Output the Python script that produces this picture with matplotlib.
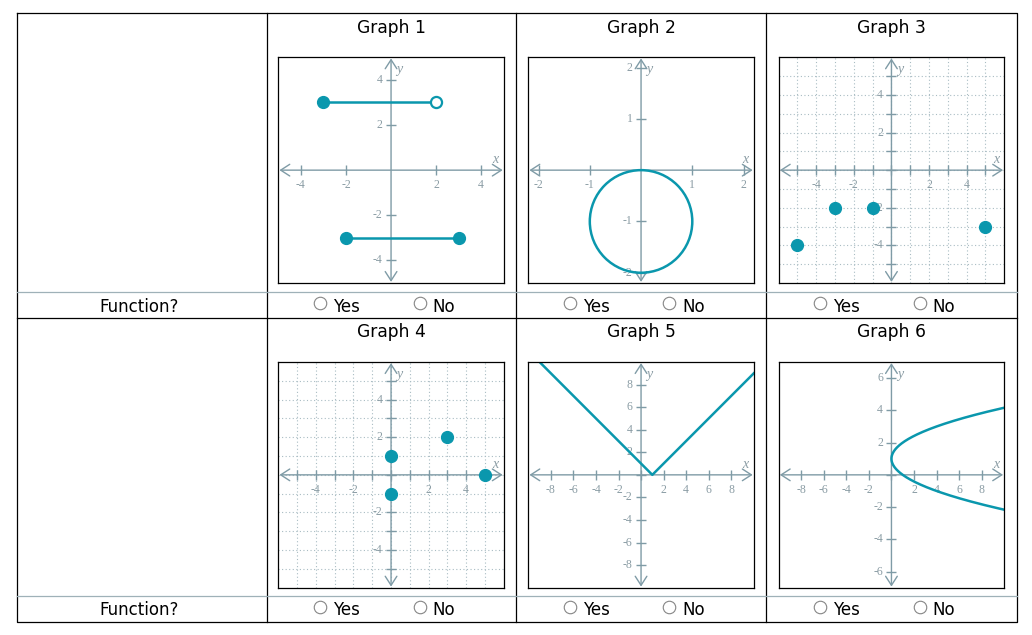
import numpy as np
import matplotlib.pyplot as plt
from matplotlib.patches import FancyArrowPatch, Circle

W, H = 1032, 635
TEAL = '#0a97ad'
AXC = '#7f9ba6'
LBL = '#8a9ca4'
GRID = '#a9bcc3'
SERIF = 'Liberation Serif'

titles = ['Graph 1', 'Graph 2', 'Graph 3', 'Graph 4', 'Graph 5', 'Graph 6']
row_label = 'Function?'
options = ['Yes', 'No']

# graph 1: two horizontal segments
g1_seg_x = [[-3, 2], [-2, 3]]
g1_seg_y = [[3, 3], [-3, -3]]
g1_closed_x = [-3, -2, 3]
g1_closed_y = [3, -3, -3]
g1_open_x = [2]
g1_open_y = [3]

# graph 2: circle
g2_center = (0, -1)
g2_radius = 1

# graph 3 / 4: points
g3_x = [-5, -3, -1, 5]
g3_y = [-4, -2, -2, -3]
g4_x = [0, 0, 3, 5]
g4_y = [1, -1, 2, 0]

# graph 5: V shape
g5_x = [-10, 1, 10]
g5_y = [11, 0, 9]

# graph 6: sideways parabola x = a*(y-k)^2
g6_vertex = (0, 1)
g6_a = 1.0
g6_yrange = (-2.5, 4.5)

# axis ranges, ticks and labels for each graph
ranges = [(5, 5), (2.2, 2.2), (6, 6), (6, 6), (10, 10), (10, 7)]
xticks = [[-4, -2, 2, 4], [-2, -1, 1, 2], list(range(-5, 6)), list(range(-5, 6)),
          list(range(-8, 9, 2)), list(range(-8, 9, 2))]
yticks = [[-4, -2, 2, 4], [-2, -1, 1, 2], list(range(-5, 6)), list(range(-5, 6)),
          list(range(-8, 9, 2)), list(range(-6, 7, 2))]
xlabels = [[-4, -2, 2, 4], [-2, -1, 1, 2], [-4, -2, 2, 4], [-4, -2, 2, 4],
           [-8, -6, -4, -2, 2, 4, 6, 8], [-8, -6, -4, -2, 2, 4, 6, 8]]
ylabels = [[-4, -2, 2, 4], [-2, -1, 1, 2], [-4, -2, 2, 4], [-4, -2, 2, 4],
           [-8, -6, -4, -2, 2, 4, 6, 8], [-6, -4, -2, 2, 4, 6]]
grids = [False, False, True, True, False, False]

fig = plt.figure(figsize=(W / 100, H / 100), dpi=100)
ax0 = fig.add_axes([0, 0, 1, 1])
ax0.set_xlim(0, W)
ax0.set_ylim(H, 0)
ax0.axis('off')

# table
L, R, T, B = 17.3, 1016.7, 13.3, 622
cols = [266.7, 516.3, 766.3]
ax0.plot([L, R, R, L, L], [T, T, B, B, T], color='black', lw=0.9)
for c in cols:
    ax0.plot([c, c], [T, B], color='black', lw=0.9)
ax0.plot([L, R], [318.3, 318.3], color='black', lw=0.9)
for y in [291.5, 595.5]:
    ax0.plot([L, R], [y, y], color='#9fb1b8', lw=0.9)

centers = [(cols[0] + cols[1]) / 2, (cols[1] + cols[2]) / 2, (cols[2] + R) / 2]
title_base = [33.0, 337.2]
radio_base = [311.5, 615.3]
for r in range(2):
    ax0.text(139, radio_base[r], row_label, fontsize=12, ha='center', va='baseline')
    for c in range(3):
        cx = centers[c]
        ax0.text(cx, title_base[r], titles[r * 3 + c], fontsize=12.3, ha='center', va='baseline')
        for off, opt in zip([-71.5, 28], options):
            ax0.plot(cx + off, radio_base[r] - 8.5, 'o', ms=9, mfc='white', mec='#858585', mew=0.8)
            ax0.text(cx + off + 13, radio_base[r], opt, fontsize=12, ha='left', va='baseline')

box_left = [278.3, 528.3, 778.7]
box_top = [57.3, 362.0]
bw, bh = 225.5, 225.7


def setup(ax, xr, yr, xt, yt, xl, yl, grid):
    ax.set_xlim(-xr, xr)
    ax.set_ylim(-yr, yr)
    ax.set_xticks([])
    ax.set_yticks([])
    for s in ax.spines.values():
        s.set_color('black')
        s.set_linewidth(0.9)
    if grid:
        for v in range(-int(xr) + 1, int(xr)):
            ax.axvline(v, color=GRID, lw=0.8, ls=(0, (1, 2.2)), zorder=0)
        for v in range(-int(yr) + 1, int(yr)):
            ax.axhline(v, color=GRID, lw=0.8, ls=(0, (1, 2.2)), zorder=0)
    sty = '<->,head_length=0.65,head_width=0.42'
    ax.add_patch(FancyArrowPatch((-xr * 0.99, 0), (xr * 0.99, 0), arrowstyle=sty, mutation_scale=10,
                                 color=AXC, lw=1, shrinkA=0, shrinkB=0, zorder=1))
    ax.add_patch(FancyArrowPatch((0, -yr * 0.99), (0, yr * 0.99), arrowstyle=sty, mutation_scale=10,
                                 color=AXC, lw=1, shrinkA=0, shrinkB=0, zorder=1))
    ax.plot(xt, [0] * len(xt), ls='none', marker='|', ms=7, mew=1, color=AXC, zorder=1)
    ax.plot([0] * len(yt), yt, ls='none', marker='_', ms=7, mew=1, color=AXC, zorder=1)
    for v in xl:
        ax.annotate(str(v), (v, 0), xytext=(0, -6.5), textcoords='offset points', ha='center', va='top',
                    fontsize=8.5, family=SERIF, color=LBL, zorder=1)
    for v in yl:
        ax.annotate(str(v), (0, v), xytext=(-6, 0), textcoords='offset points', ha='right', va='center',
                    fontsize=8.5, family=SERIF, color=LBL, zorder=1)
    ax.annotate('x', (xr, 0), xytext=(-6, 3), textcoords='offset points', ha='center', va='bottom',
                fontsize=10, family=SERIF, style='italic', color=LBL)
    ax.annotate('y', (0, yr), xytext=(4, -4), textcoords='offset points', ha='left', va='top',
                fontsize=10, family=SERIF, style='italic', color=LBL)


axes = []
for i in range(6):
    r, c = divmod(i, 3)
    x0, y0 = box_left[c], box_top[r]
    ax = fig.add_axes([x0 / W, 1 - (y0 + bh) / H, bw / W, bh / H])
    xr, yr = ranges[i]
    setup(ax, xr, yr, xticks[i], yticks[i], xlabels[i], ylabels[i], grids[i])
    axes.append(ax)

dot = dict(ls='none', marker='o', ms=8.5, color=TEAL, zorder=3)

# graph 1
ax = axes[0]
for sx, sy in zip(g1_seg_x, g1_seg_y):
    ax.plot(sx, sy, color=TEAL, lw=1.8, zorder=2)
ax.plot(g1_closed_x, g1_closed_y, **dot)
ax.plot(g1_open_x, g1_open_y, ls='none', marker='o', ms=8, mfc='white', mec=TEAL, mew=1.6, zorder=3)

# graph 2
axes[1].add_patch(Circle(g2_center, g2_radius, fill=False, ec=TEAL, lw=1.8, zorder=2))

# graph 3, 4
axes[2].plot(g3_x, g3_y, **dot)
axes[3].plot(g4_x, g4_y, **dot)

# graph 5
axes[4].plot(g5_x, g5_y, color=TEAL, lw=1.8, zorder=2)

# graph 6
yy = np.linspace(g6_yrange[0], g6_yrange[1], 300)
axes[5].plot(g6_vertex[0] + g6_a * (yy - g6_vertex[1]) ** 2, yy, color=TEAL, lw=1.8, zorder=2)

fig.savefig('out.png', dpi=100)
